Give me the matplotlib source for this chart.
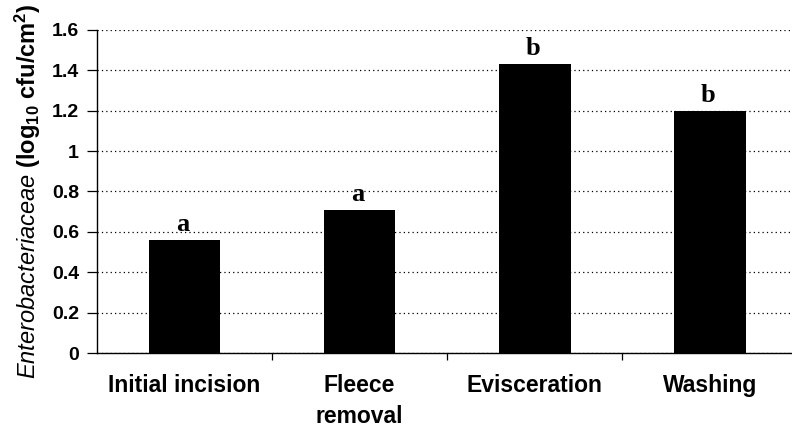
import numpy as np
import matplotlib.pyplot as plt

# data
stages = ['Initial incision', 'Fleece\nremoval', 'Evisceration', 'Washing']
counts = [0.56, 0.71, 1.43, 1.20]   # log10 cfu/cm2
letters = ['a', 'a', 'b', 'b']

plt.rcParams['font.family'] = ['Liberation Sans', 'DejaVu Sans']
plt.rcParams['mathtext.fontset'] = 'custom'
plt.rcParams['mathtext.rm'] = 'Liberation Sans'
plt.rcParams['mathtext.it'] = 'Liberation Sans:italic'
plt.rcParams['mathtext.bf'] = 'Liberation Sans:bold'

fig = plt.figure(figsize=(7.92, 4.33), dpi=100)
ax = fig.add_axes([97/792, 80/433, 695/792, 323/433])

x = np.arange(len(stages))
ax.bar(x, counts, width=0.41, color='black', zorder=3)
for xi, v, l in zip(x, counts, letters):
    ax.annotate(l, (xi - 0.01, v), xytext=(0, 3), textcoords='offset points',
                ha='center', va='bottom', fontsize=19, fontweight='bold',
                family='Liberation Serif')

ax.set_xlim(-0.5, 3.47)
ax.set_ylim(0, 1.6)
ax.set_yticks(np.arange(0, 1.61, 0.2))
ax.set_yticklabels(['0', '0.2', '0.4', '0.6', '0.8', '1', '1.2', '1.4', '1.6'],
                   fontsize=14, fontweight='bold')
ax.yaxis.grid(True, linestyle=(0, (1, 2.5)), color='black', linewidth=0.9)
ax.set_axisbelow(True)

ax.set_xticks(x)
ax.set_xticklabels(stages, fontsize=16.5, fontweight='bold', linespacing=1.45)
ax.tick_params(axis='x', which='major', length=0, pad=15)
ax.set_xticks([0.5, 1.5, 2.5], minor=True)
ax.tick_params(axis='x', which='minor', length=5, width=0.9, direction='out')
ax.tick_params(axis='y', length=7, width=0.9, direction='out', pad=6)

for s in ['top', 'right']:
    ax.spines[s].set_visible(False)
ax.spines['left'].set_linewidth(1.0)
ax.spines['bottom'].set_linewidth(1.0)

ax.set_ylabel(r'$\it{Enterobacteriaceae}$ $\mathbf{(log_{10}\ cfu/cm^2)}$',
              fontsize=17, labelpad=6)

fig.savefig('out.png', dpi=100)
